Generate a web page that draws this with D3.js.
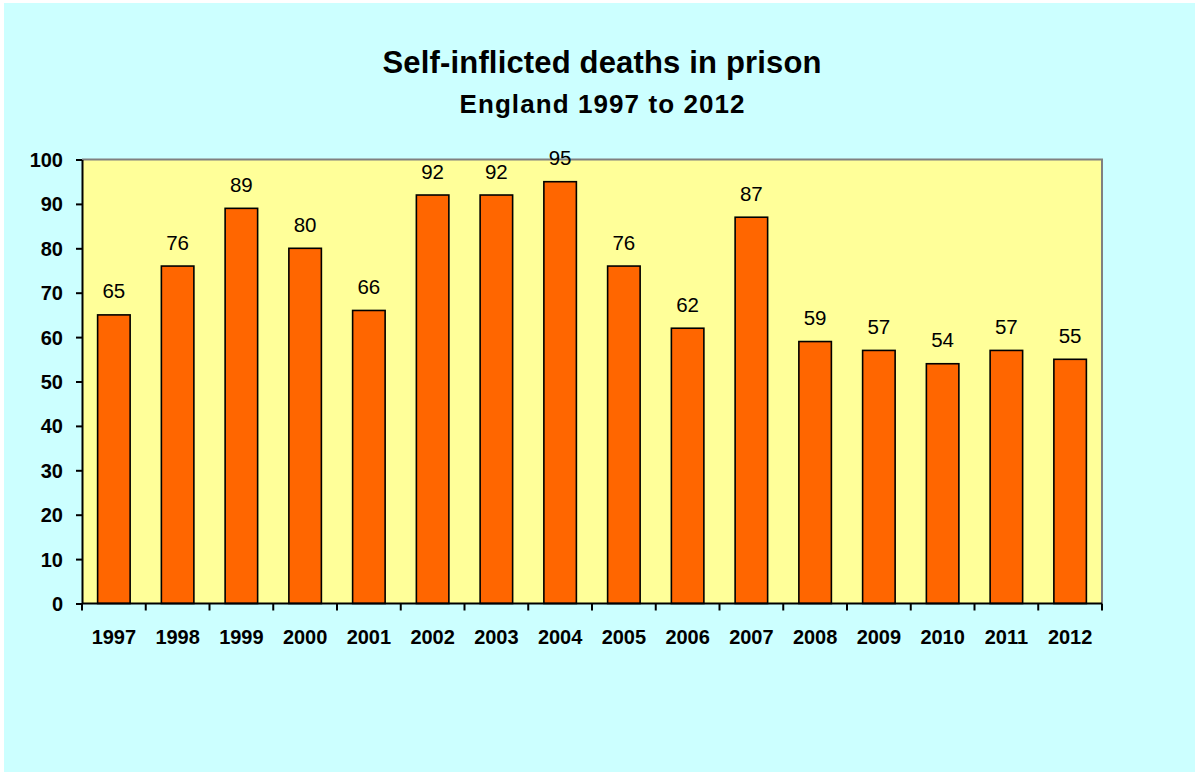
<!DOCTYPE html>
<html><head><meta charset="utf-8">
<script src="https://cdn.jsdelivr.net/npm/d3@7"></script>
<style>body{margin:0;background:#fff;}svg{display:block;}</style>
</head><body>
<svg id="chart" width="1198" height="773"></svg>
<script>
const years = ["1997","1998","1999","2000","2001","2002","2003","2004","2005","2006","2007","2008","2009","2010","2011","2012"];
const deaths = [65,76,89,80,66,92,92,95,76,62,87,59,57,54,57,55];
const yTicks = [0,10,20,30,40,50,60,70,80,90,100];

const FONT = "'Liberation Sans', Arial, sans-serif";
const svg = d3.select("#chart");
const W = 1198, H = 773;
const m = {left:82, right:1102, top:159.5, bottom:603.5};

svg.append("rect").attr("x",0).attr("y",0).attr("width",W).attr("height",H).attr("fill","#fff");
svg.append("rect").attr("x",4).attr("y",3).attr("width",1191).attr("height",769).attr("fill","#CCFFFF");

const x = d3.scaleBand().domain(years).range([m.left,m.right]).paddingInner(0.49).paddingOuter(0.245);
const y = d3.scaleLinear().domain([0,100]).range([m.bottom,m.top]);

svg.append("rect").attr("x",m.left).attr("y",m.top).attr("width",m.right-m.left).attr("height",m.bottom-m.top).attr("fill","#FFFF99");
svg.append("path").attr("d",`M${m.left},${m.top}H${m.right}V${m.bottom}`).attr("fill","none").attr("stroke","#808080").attr("stroke-width",2);

svg.selectAll("rect.bar").data(deaths).enter().append("rect").attr("class","bar")
  .attr("x",(d,i)=>x(years[i])).attr("width",x.bandwidth())
  .attr("y",d=>y(d)).attr("height",d=>y(0)-y(d))
  .attr("fill","#FF6600").attr("stroke","#000").attr("stroke-width",1.6);

svg.selectAll("text.lab").data(deaths).enter().append("text").attr("class","lab")
  .attr("x",(d,i)=>x(years[i])+x.bandwidth()/2).attr("y",d=>y(d)-16.5)
  .attr("text-anchor","middle").attr("font-family",FONT)
  .attr("font-size",20.5).attr("fill","#000").text(d=>d);

// y axis
const yAxis = d3.axisLeft(y).tickValues(yTicks).tickSize(6).tickSizeOuter(0).tickPadding(13);
const gy = svg.append("g").attr("transform",`translate(${m.left},0)`).call(yAxis);
gy.select(".domain").attr("stroke","#000").attr("stroke-width",2);
gy.selectAll(".tick line").attr("stroke","#000").attr("stroke-width",2);
gy.selectAll(".tick text").attr("font-family",FONT).attr("font-weight","bold").attr("font-size",20).attr("fill","#000").attr("dy","0.35em");

// x axis: ticks at band boundaries
const gx = svg.append("g").attr("transform",`translate(0,${m.bottom})`);
gx.append("line").attr("x1",m.left).attr("x2",m.right).attr("stroke","#000").attr("stroke-width",2);
const step = x.step();
const bounds = d3.range(years.length+1).map(i=>m.left+i*step);
gx.selectAll("line.t").data(bounds).enter().append("line").attr("class","t")
  .attr("x1",d=>d).attr("x2",d=>d).attr("y1",0).attr("y2",7).attr("stroke","#000").attr("stroke-width",2);
gx.selectAll("text").data(years).enter().append("text")
  .attr("x",d=>x(d)+x.bandwidth()/2).attr("y",40)
  .attr("text-anchor","middle").attr("font-family",FONT)
  .attr("font-weight","bold").attr("font-size",20).attr("fill","#000").text(d=>d);

svg.append("text").attr("x",602).attr("y",73).attr("text-anchor","middle")
  .attr("font-family",FONT).attr("font-weight","bold").attr("font-size",31)
  .attr("textLength",439).attr("lengthAdjust","spacing").text("Self-inflicted deaths in prison");
svg.append("text").attr("x",602).attr("y",113).attr("text-anchor","middle")
  .attr("font-family",FONT).attr("font-weight","bold").attr("font-size",26)
  .attr("textLength",285).attr("lengthAdjust","spacing").text("England 1997 to 2012");
</script>
</body></html>
